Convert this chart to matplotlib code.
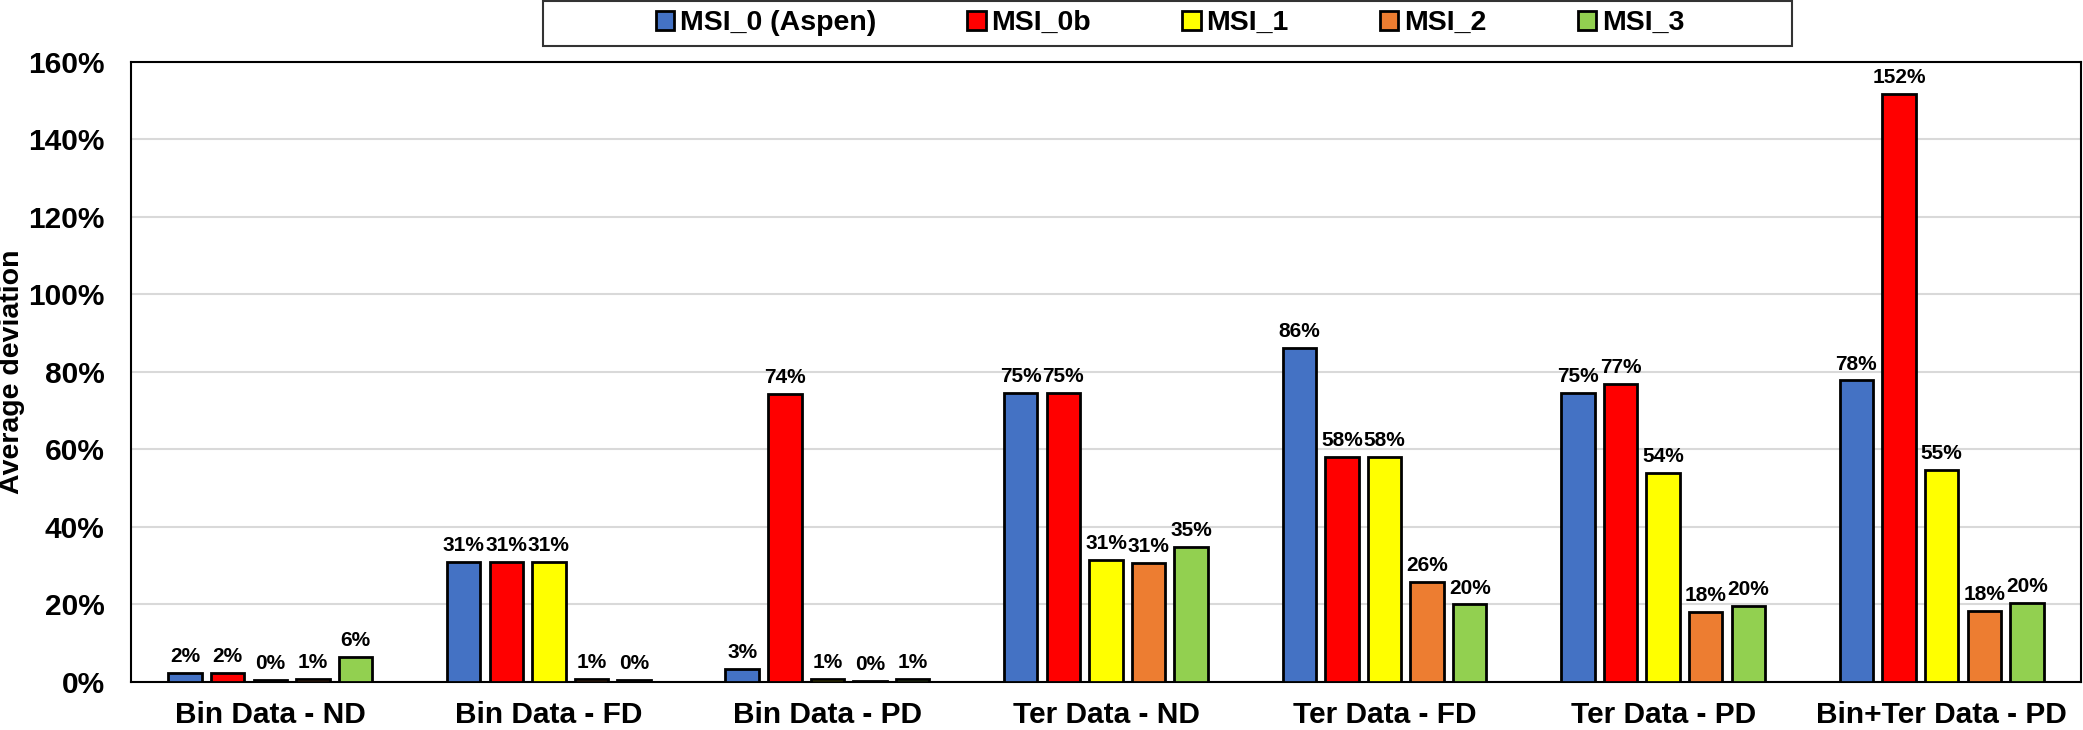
import numpy as np
import matplotlib
matplotlib.use("Agg")
import matplotlib.pyplot as plt
from matplotlib.patches import Rectangle
from matplotlib.ticker import PercentFormatter

plt.rcParams['font.family'] = ['Liberation Sans', 'DejaVu Sans']
plt.rcParams['font.weight'] = 'bold'

# Data
categories = ['Bin Data - ND', 'Bin Data - FD', 'Bin Data - PD', 'Ter Data - ND',
              'Ter Data - FD', 'Ter Data - PD', 'Bin+Ter Data - PD']
series = ['MSI_0 (Aspen)', 'MSI_0b', 'MSI_1', 'MSI_2', 'MSI_3']
msi_0 = [0.023, 0.310, 0.034, 0.746, 0.863, 0.746, 0.778]
msi_0b = [0.023, 0.310, 0.743, 0.746, 0.581, 0.770, 1.517]
msi_1 = [0.004, 0.310, 0.008, 0.314, 0.581, 0.539, 0.547]
msi_2 = [0.008, 0.008, 0.003, 0.306, 0.257, 0.180, 0.183]
msi_3 = [0.064, 0.004, 0.008, 0.348, 0.200, 0.196, 0.203]
colors = ['#4472C4', '#FF0000', '#FFFF00', '#ED7D31', '#92D050']

values = [msi_0, msi_0b, msi_1, msi_2, msi_3]

fig = plt.figure(figsize=(20.83, 7.30), dpi=100)
ax = fig.add_axes([0.0629, 0.0658, 0.9361, 0.8493])

x = np.arange(len(categories))
pitch = 0.153
width = 0.12
for i, (name, vals, c) in enumerate(zip(series, values, colors)):
    pos = x + (i - 2) * pitch
    bars = ax.bar(pos, vals, width, color=c, edgecolor='black', linewidth=2.0,
                  label=name, zorder=3)
    for b, v in zip(bars, vals):
        ax.annotate(f"{v:.0%}", (b.get_x() + b.get_width() / 2, v),
                    xytext=(0, 5), textcoords='offset points',
                    ha='center', va='bottom', fontsize=15, fontweight='bold')

ax.set_xlim(-0.5, len(categories) - 0.5)
ax.set_ylim(0, 1.6)
ax.set_yticks(np.arange(0, 1.61, 0.2))
ax.yaxis.set_major_formatter(PercentFormatter(1.0, decimals=0))
ax.set_xticks(x)
ax.set_xticklabels(categories)
ax.tick_params(axis='y', length=0, pad=19, labelsize=21.5)
ax.tick_params(axis='x', length=0, pad=14, labelsize=21.5)
ax.grid(axis='y', color='#d9d9d9', linewidth=1.5, zorder=0)
ax.set_axisbelow(True)
for s in ax.spines.values():
    s.set_linewidth(1.5)
    s.set_color('black')

ax.set_ylabel('Average deviation', fontsize=20.5, fontweight='bold')
ax.yaxis.set_label_coords(-0.0545, 0.5)

# Legend with a wide frame like the original
fig.patches.append(Rectangle((0.2607, 0.937), 0.5996, 0.0616, transform=fig.transFigure,
                             facecolor='white', edgecolor='#333333', linewidth=1.5,
                             zorder=0))
fig.legend(loc='center', bbox_to_anchor=(0.5617, 0.968), ncol=5, frameon=False,
           fontsize=20.5, borderpad=0, columnspacing=3.2, handlelength=0.65,
           handleheight=0.65, handletextpad=0.2)

fig.savefig('out.png', dpi=100)
